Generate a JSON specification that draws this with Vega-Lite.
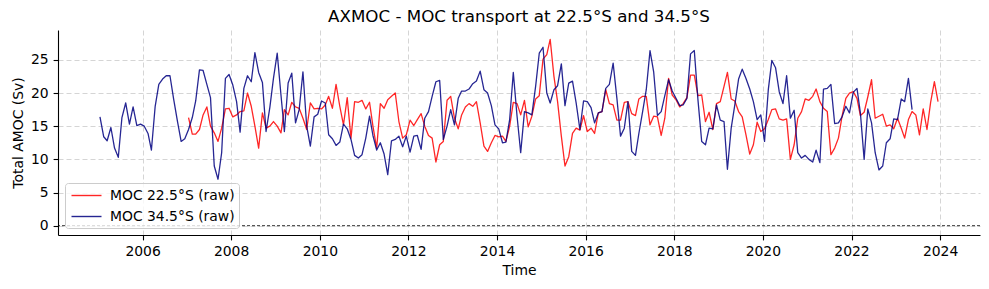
{
  "$schema": "https://vega.github.io/schema/vega-lite/v6.json",
  "width": 922,
  "height": 205,
  "autosize": {"type": "none"},
  "padding": {"left": 58, "top": 30, "right": 9, "bottom": 54},
  "title": {
    "text": "AXMOC - MOC transport at 22.5°S and 34.5°S",
    "font": "DejaVu Sans",
    "fontSize": 16.7,
    "fontWeight": "normal",
    "color": "#000000",
    "anchor": "middle",
    "offset": 4
  },
  "config": {
    "view": {"stroke": null},
    "font": "DejaVu Sans",
    "axis": {
      "domainColor": "#000000",
      "domainWidth": 1.1,
      "tickColor": "#000000",
      "tickWidth": 1.1,
      "tickSize": 4.9,
      "labelFont": "DejaVu Sans",
      "labelFontSize": 13.9,
      "labelColor": "#000000",
      "labelPadding": 5,
      "labelFlush": false,
      "labelOverlap": false,
      "titleFont": "DejaVu Sans",
      "titleFontSize": 13.9,
      "titleFontWeight": "normal",
      "titleColor": "#000000",
      "titlePadding": 5,
      "grid": true,
      "gridColor": "#d0d0d0",
      "gridDash": [5, 3],
      "gridWidth": 0.9
    }
  },
  "layer": [
    {
      "data": {"values": [{"level": 0}]},
      "mark": {"type": "rule", "color": "#000000", "strokeWidth": 0.8, "strokeDash": [3, 2]},
      "encoding": {
        "y": {"field": "level", "type": "quantitative", "title": "Total AMOC (Sv)"}
      }
    },
    {
      "data": {
        "values": [
          {"date": "2005-01-15", "moc34": 16.4}, {"date": "2005-02-15", "moc34": 13.4}, {"date": "2005-03-15", "moc34": 12.8},
          {"date": "2005-04-15", "moc34": 14.8}, {"date": "2005-05-15", "moc34": 11.7}, {"date": "2005-06-15", "moc34": 10.3},
          {"date": "2005-07-15", "moc34": 16.3}, {"date": "2005-08-15", "moc34": 18.5}, {"date": "2005-09-15", "moc34": 15.3},
          {"date": "2005-10-15", "moc34": 17.9}, {"date": "2005-11-15", "moc34": 15.1}, {"date": "2005-12-15", "moc34": 15.3},
          {"date": "2006-01-15", "moc34": 15.0}, {"date": "2006-02-15", "moc34": 13.9}, {"date": "2006-03-15", "moc34": 11.4},
          {"date": "2006-04-15", "moc34": 18.0}, {"date": "2006-05-15", "moc34": 21.3}, {"date": "2006-06-15", "moc34": 22.1},
          {"date": "2006-07-15", "moc34": 22.6}, {"date": "2006-08-15", "moc34": 22.6}, {"date": "2006-09-15", "moc34": 19.0},
          {"date": "2006-10-15", "moc34": 15.8}, {"date": "2006-11-15", "moc34": 12.7}, {"date": "2006-12-15", "moc34": 13.1},
          {"date": "2007-01-15", "moc22": 16.3, "moc34": 14.5}, {"date": "2007-02-15", "moc22": 13.8, "moc34": 16.3},
          {"date": "2007-03-15", "moc22": 13.8, "moc34": 18.8}, {"date": "2007-04-15", "moc22": 14.5, "moc34": 23.5},
          {"date": "2007-05-15", "moc22": 16.7, "moc34": 23.4}, {"date": "2007-06-15", "moc22": 17.9, "moc34": 21.3},
          {"date": "2007-07-15", "moc22": 15.0, "moc34": 19.3}, {"date": "2007-08-15", "moc22": 14.0, "moc34": 9.0},
          {"date": "2007-09-15", "moc22": 12.7, "moc34": 7.0}, {"date": "2007-10-15", "moc22": 14.7, "moc34": 11.0},
          {"date": "2007-11-15", "moc22": 17.6, "moc34": 22.2}, {"date": "2007-12-15", "moc22": 17.7, "moc34": 22.8},
          {"date": "2008-01-15", "moc22": 16.4, "moc34": 21.2}, {"date": "2008-02-15", "moc22": 16.7, "moc34": 18.7},
          {"date": "2008-03-15", "moc22": 17.2, "moc34": 14.1}, {"date": "2008-04-15", "moc22": 17.3, "moc34": 20.7},
          {"date": "2008-05-15", "moc22": 20.0, "moc34": 22.6}, {"date": "2008-06-15", "moc22": 18.0, "moc34": 21.7},
          {"date": "2008-07-15", "moc22": 15.0, "moc34": 26.1}, {"date": "2008-08-15", "moc22": 11.7, "moc34": 23.1},
          {"date": "2008-09-15", "moc22": 17.0, "moc34": 21.6}, {"date": "2008-10-15", "moc22": 14.7, "moc34": 14.2},
          {"date": "2008-11-15", "moc22": 15.0, "moc34": 17.8}, {"date": "2008-12-15", "moc22": 15.7, "moc34": 22.2},
          {"date": "2009-01-15", "moc22": 15.0, "moc34": 26.0}, {"date": "2009-02-15", "moc22": 14.0, "moc34": 19.7},
          {"date": "2009-03-15", "moc22": 17.5, "moc34": 14.2}, {"date": "2009-04-15", "moc22": 16.7, "moc34": 21.5},
          {"date": "2009-05-15", "moc22": 18.6, "moc34": 23.0}, {"date": "2009-06-15", "moc22": 17.9, "moc34": 15.5},
          {"date": "2009-07-15", "moc22": 17.7, "moc34": 17.5}, {"date": "2009-08-15", "moc22": 16.2, "moc34": 23.2},
          {"date": "2009-09-15", "moc22": 14.5, "moc34": 15.0}, {"date": "2009-10-15", "moc22": 18.5, "moc34": 12.0},
          {"date": "2009-11-15", "moc22": 17.6, "moc34": 16.4}, {"date": "2009-12-15", "moc22": 17.7, "moc34": 16.8},
          {"date": "2010-01-15", "moc22": 17.6, "moc34": 18.8}, {"date": "2010-02-15", "moc22": 18.2, "moc34": 18.5},
          {"date": "2010-03-15", "moc22": 19.5, "moc34": 13.7}, {"date": "2010-04-15", "moc22": 17.7, "moc34": 13.1},
          {"date": "2010-05-15", "moc22": 21.3, "moc34": 12.1}, {"date": "2010-06-15", "moc22": 18.0, "moc34": 12.6},
          {"date": "2010-07-15", "moc22": 15.2, "moc34": 15.3}, {"date": "2010-08-15", "moc22": 19.3, "moc34": 14.6},
          {"date": "2010-09-15", "moc22": 13.2, "moc34": 13.0}, {"date": "2010-10-15", "moc22": 18.7, "moc34": 10.6},
          {"date": "2010-11-15", "moc22": 18.6, "moc34": 10.2}, {"date": "2010-12-15", "moc22": 18.9, "moc34": 10.7},
          {"date": "2011-01-15", "moc22": 17.6, "moc34": 13.2}, {"date": "2011-02-15", "moc22": 18.6, "moc34": 16.5},
          {"date": "2011-03-15", "moc22": 15.0, "moc34": 13.6}, {"date": "2011-04-15", "moc22": 11.7, "moc34": 11.4},
          {"date": "2011-05-15", "moc22": 18.4, "moc34": 12.5}, {"date": "2011-06-15", "moc22": 17.7, "moc34": 10.8},
          {"date": "2011-07-15", "moc22": 19.0, "moc34": 7.7}, {"date": "2011-08-15", "moc22": 19.5, "moc34": 12.8},
          {"date": "2011-09-15", "moc22": 20.0, "moc34": 13.0}, {"date": "2011-10-15", "moc22": 15.7, "moc34": 13.5},
          {"date": "2011-11-15", "moc22": 13.2, "moc34": 11.9}, {"date": "2011-12-15", "moc22": 13.7, "moc34": 13.5},
          {"date": "2012-01-15", "moc22": 15.9, "moc34": 11.1}, {"date": "2012-02-15", "moc22": 15.1, "moc34": 13.5},
          {"date": "2012-03-15", "moc22": 16.0, "moc34": 13.6}, {"date": "2012-04-15", "moc22": 16.9, "moc34": 11.5},
          {"date": "2012-05-15", "moc22": 15.0, "moc34": 16.2}, {"date": "2012-06-15", "moc22": 13.6, "moc34": 17.2},
          {"date": "2012-07-15", "moc22": 13.2, "moc34": 19.5}, {"date": "2012-08-15", "moc22": 9.6, "moc34": 21.7},
          {"date": "2012-09-15", "moc22": 12.2, "moc34": 21.9}, {"date": "2012-10-15", "moc22": 12.7, "moc34": 13.0},
          {"date": "2012-11-15", "moc22": 18.9, "moc34": 15.0}, {"date": "2012-12-15", "moc22": 19.5, "moc34": 17.5},
          {"date": "2013-01-15", "moc22": 16.2, "moc34": 15.2}, {"date": "2013-02-15", "moc22": 14.6, "moc34": 19.2},
          {"date": "2013-03-15", "moc22": 16.7, "moc34": 20.3}, {"date": "2013-04-15", "moc22": 17.9, "moc34": 20.3},
          {"date": "2013-05-15", "moc22": 18.4, "moc34": 20.6}, {"date": "2013-06-15", "moc22": 18.0, "moc34": 21.4},
          {"date": "2013-07-15", "moc22": 18.7, "moc34": 21.8}, {"date": "2013-08-15", "moc22": 15.5, "moc34": 23.3},
          {"date": "2013-09-15", "moc22": 12.0, "moc34": 20.5}, {"date": "2013-10-15", "moc22": 11.2, "moc34": 20.0},
          {"date": "2013-11-15", "moc22": 12.5, "moc34": 18.1}, {"date": "2013-12-15", "moc22": 13.6, "moc34": 15.2},
          {"date": "2014-01-15", "moc22": 13.4, "moc34": 14.6}, {"date": "2014-02-15", "moc22": 13.5, "moc34": 12.5},
          {"date": "2014-03-15", "moc22": 12.7, "moc34": 12.6}, {"date": "2014-04-15", "moc22": 15.0, "moc34": 16.0},
          {"date": "2014-05-15", "moc22": 18.6, "moc34": 23.1}, {"date": "2014-06-15", "moc22": 18.4, "moc34": 16.5},
          {"date": "2014-07-15", "moc22": 16.7, "moc34": 11.0}, {"date": "2014-08-15", "moc22": 18.9, "moc34": 17.2},
          {"date": "2014-09-15", "moc22": 14.9, "moc34": 17.0}, {"date": "2014-10-15", "moc22": 16.5, "moc34": 16.7},
          {"date": "2014-11-15", "moc22": 19.1, "moc34": 21.0}, {"date": "2014-12-15", "moc22": 19.6, "moc34": 26.0},
          {"date": "2015-01-15", "moc22": 25.1, "moc34": 26.9}, {"date": "2015-02-15", "moc22": 25.8, "moc34": 20.0},
          {"date": "2015-03-15", "moc22": 28.1, "moc34": 18.5}, {"date": "2015-04-15", "moc22": 22.5, "moc34": 20.5},
          {"date": "2015-05-15", "moc22": 18.7, "moc34": 21.1}, {"date": "2015-06-15", "moc22": 13.5, "moc34": 24.4},
          {"date": "2015-07-15", "moc22": 9.0, "moc34": 18.1}, {"date": "2015-08-15", "moc22": 10.4, "moc34": 21.5},
          {"date": "2015-09-15", "moc22": 13.9, "moc34": 21.8}, {"date": "2015-10-15", "moc22": 14.7, "moc34": 18.5},
          {"date": "2015-11-15", "moc22": 14.4, "moc34": 14.5}, {"date": "2015-12-15", "moc22": 16.6, "moc34": 18.8},
          {"date": "2016-01-15", "moc22": 14.2, "moc34": 18.7}, {"date": "2016-02-15", "moc22": 14.7, "moc34": 17.8},
          {"date": "2016-03-15", "moc22": 13.9, "moc34": 15.5}, {"date": "2016-04-15", "moc22": 17.0, "moc34": 17.0},
          {"date": "2016-05-15", "moc22": 17.2, "moc34": 17.2}, {"date": "2016-06-15", "moc22": 20.5, "moc34": 20.7},
          {"date": "2016-07-15", "moc22": 18.4, "moc34": 21.3}, {"date": "2016-08-15", "moc22": 18.2, "moc34": 24.5},
          {"date": "2016-09-15", "moc22": 15.9, "moc34": 19.2}, {"date": "2016-10-15", "moc22": 15.9, "moc34": 13.5},
          {"date": "2016-11-15", "moc22": 18.6, "moc34": 14.7}, {"date": "2016-12-15", "moc22": 18.7, "moc34": 18.7},
          {"date": "2017-01-15", "moc22": 16.9, "moc34": 11.2}, {"date": "2017-02-15", "moc22": 16.6, "moc34": 10.6},
          {"date": "2017-03-15", "moc22": 19.1, "moc34": 13.9}, {"date": "2017-04-15", "moc22": 19.5, "moc34": 17.2},
          {"date": "2017-05-15", "moc22": 19.5, "moc34": 20.5}, {"date": "2017-06-15", "moc22": 15.2, "moc34": 26.4},
          {"date": "2017-07-15", "moc22": 16.5, "moc34": 23.2}, {"date": "2017-08-15", "moc22": 16.4, "moc34": 16.6},
          {"date": "2017-09-15", "moc22": 13.6, "moc34": 17.2}, {"date": "2017-10-15", "moc22": 16.2, "moc34": 19.6},
          {"date": "2017-11-15", "moc22": 22.2, "moc34": 22.0}, {"date": "2017-12-15", "moc22": 19.7, "moc34": 20.3},
          {"date": "2018-01-15", "moc22": 19.0, "moc34": 19.2}, {"date": "2018-02-15", "moc22": 17.9, "moc34": 18.1},
          {"date": "2018-03-15", "moc22": 18.4, "moc34": 18.2}, {"date": "2018-04-15", "moc22": 19.3, "moc34": 19.2},
          {"date": "2018-05-15", "moc22": 22.7, "moc34": 25.9}, {"date": "2018-06-15", "moc22": 22.7, "moc34": 26.4},
          {"date": "2018-07-15", "moc22": 19.6, "moc34": 19.0}, {"date": "2018-08-15", "moc22": 19.7, "moc34": 12.7},
          {"date": "2018-09-15", "moc22": 15.7, "moc34": 12.2}, {"date": "2018-10-15", "moc22": 17.1, "moc34": 14.7},
          {"date": "2018-11-15", "moc22": 14.5, "moc34": 14.6}, {"date": "2018-12-15", "moc22": 18.4, "moc34": 18.2},
          {"date": "2019-01-15", "moc22": 18.7, "moc34": 15.9}, {"date": "2019-02-15", "moc22": 21.0, "moc34": 15.7},
          {"date": "2019-03-15", "moc22": 23.1, "moc34": 8.5}, {"date": "2019-04-15", "moc22": 19.1, "moc34": 14.7},
          {"date": "2019-05-15", "moc22": 18.8, "moc34": 18.2}, {"date": "2019-06-15", "moc22": 17.2, "moc34": 22.1},
          {"date": "2019-07-15", "moc22": 16.4, "moc34": 23.6}, {"date": "2019-08-15", "moc22": 13.7, "moc34": 22.2},
          {"date": "2019-09-15", "moc22": 10.8, "moc34": 20.6}, {"date": "2019-10-15", "moc22": 12.2, "moc34": 18.7},
          {"date": "2019-11-15", "moc22": 15.6, "moc34": 16.0}, {"date": "2019-12-15", "moc22": 14.2, "moc34": 16.7},
          {"date": "2020-01-15", "moc22": 14.6, "moc34": 12.7}, {"date": "2020-02-15", "moc22": 16.0, "moc34": 20.5},
          {"date": "2020-03-15", "moc22": 17.5, "moc34": 24.9}, {"date": "2020-04-15", "moc22": 17.6, "moc34": 23.8},
          {"date": "2020-05-15", "moc22": 16.1, "moc34": 20.2}, {"date": "2020-06-15", "moc22": 15.9, "moc34": 18.4},
          {"date": "2020-07-15", "moc22": 16.1, "moc34": 22.6}, {"date": "2020-08-15", "moc22": 10.0, "moc34": 16.2},
          {"date": "2020-09-15", "moc22": 12.2, "moc34": 17.4}, {"date": "2020-10-15", "moc22": 16.2, "moc34": 11.0},
          {"date": "2020-11-15", "moc22": 17.2, "moc34": 10.2}, {"date": "2020-12-15", "moc22": 19.1, "moc34": 10.6},
          {"date": "2021-01-15", "moc22": 18.9, "moc34": 10.0}, {"date": "2021-02-15", "moc22": 19.5, "moc34": 9.6},
          {"date": "2021-03-15", "moc22": 20.6, "moc34": 11.4}, {"date": "2021-04-15", "moc22": 18.7, "moc34": 9.5},
          {"date": "2021-05-15", "moc22": 17.7, "moc34": 20.6}, {"date": "2021-06-15", "moc22": 17.2, "moc34": 20.7},
          {"date": "2021-07-15", "moc22": 10.7, "moc34": 21.3}, {"date": "2021-08-15", "moc22": 11.7, "moc34": 15.4},
          {"date": "2021-09-15", "moc22": 13.2, "moc34": 15.5}, {"date": "2021-10-15", "moc22": 16.5, "moc34": 16.4},
          {"date": "2021-11-15", "moc22": 19.2, "moc34": 18.0}, {"date": "2021-12-15", "moc22": 20.0, "moc34": 17.0},
          {"date": "2022-01-15", "moc22": 20.2, "moc34": 20.1}, {"date": "2022-02-15", "moc22": 19.2, "moc34": 20.7},
          {"date": "2022-03-15", "moc22": 16.6, "moc34": 17.0}, {"date": "2022-04-15", "moc22": 17.1, "moc34": 10.0},
          {"date": "2022-05-15", "moc22": 19.4, "moc34": 17.6}, {"date": "2022-06-15", "moc22": 22.0, "moc34": 15.5},
          {"date": "2022-07-15", "moc22": 16.2, "moc34": 11.0}, {"date": "2022-08-15", "moc22": 16.5, "moc34": 8.4},
          {"date": "2022-09-15", "moc22": 16.8, "moc34": 9.0}, {"date": "2022-10-15", "moc22": 15.0, "moc34": 12.5},
          {"date": "2022-11-15", "moc22": 15.2, "moc34": 13.1}, {"date": "2022-12-15", "moc22": 14.6, "moc34": 16.1},
          {"date": "2023-01-15", "moc22": 16.2, "moc34": 16.0}, {"date": "2023-02-15", "moc22": 14.7, "moc34": 19.1},
          {"date": "2023-03-15", "moc22": 13.2, "moc34": 18.7}, {"date": "2023-04-15", "moc22": 16.0, "moc34": 22.2},
          {"date": "2023-05-15", "moc22": 17.2, "moc34": 17.5}, {"date": "2023-06-15", "moc22": 16.7},
          {"date": "2023-07-15", "moc22": 13.7}, {"date": "2023-08-15", "moc22": 17.6},
          {"date": "2023-09-15", "moc22": 14.5}, {"date": "2023-10-15", "moc22": 18.6},
          {"date": "2023-11-15", "moc22": 21.7}, {"date": "2023-12-15", "moc22": 18.7}
        ]
      },
      "transform": [{"fold": ["moc22", "moc34"], "as": ["series", "sv"]}],
      "mark": {"type": "line", "strokeWidth": 1.3, "opacity": 0.85, "strokeJoin": "round"},
      "encoding": {
        "x": {
          "field": "date",
          "type": "temporal",
          "title": "Time",
          "scale": {
            "type": "utc",
            "domain": [
              {"year": 2004, "month": 2, "date": 4, "utc": true},
              {"year": 2024, "month": 11, "date": 25, "utc": true}
            ]
          },
          "axis": {
            "format": "%Y",
            "values": [
              {"year": 2006, "month": 1, "date": 1, "utc": true},
              {"year": 2008, "month": 1, "date": 1, "utc": true},
              {"year": 2010, "month": 1, "date": 1, "utc": true},
              {"year": 2012, "month": 1, "date": 1, "utc": true},
              {"year": 2014, "month": 1, "date": 1, "utc": true},
              {"year": 2016, "month": 1, "date": 1, "utc": true},
              {"year": 2018, "month": 1, "date": 1, "utc": true},
              {"year": 2020, "month": 1, "date": 1, "utc": true},
              {"year": 2022, "month": 1, "date": 1, "utc": true},
              {"year": 2024, "month": 1, "date": 1, "utc": true}
            ]
          }
        },
        "y": {
          "field": "sv",
          "type": "quantitative",
          "title": "Total AMOC (Sv)",
          "scale": {"domain": [-1.405, 29.5], "nice": false, "zero": false},
          "axis": {"values": [0, 5, 10, 15, 20, 25]}
        },
        "color": {
          "field": "series",
          "type": "nominal",
          "scale": {"domain": ["moc22", "moc34"], "range": ["#ff0000", "#000080"]},
          "legend": {
            "title": null,
            "orient": "bottom-left",
            "offset": 7,
            "padding": 4,
            "fillColor": "rgba(255,255,255,0.8)",
            "strokeColor": "#cccccc",
            "cornerRadius": 3,
            "symbolType": "M-2,0H2",
            "symbolSize": 225,
            "symbolStrokeWidth": 1.4,
            "symbolOpacity": 0.85,
            "symbolOffset": 9,
            "labelFont": "DejaVu Sans",
            "labelFontSize": 13.9,
            "labelColor": "#000000",
            "labelOffset": 15,
            "rowPadding": 5,
            "labelExpr": "datum.value == 'moc22' ? 'MOC 22.5°S (raw)' : 'MOC 34.5°S (raw)'"
          }
        }
      }
    }
  ]
}
